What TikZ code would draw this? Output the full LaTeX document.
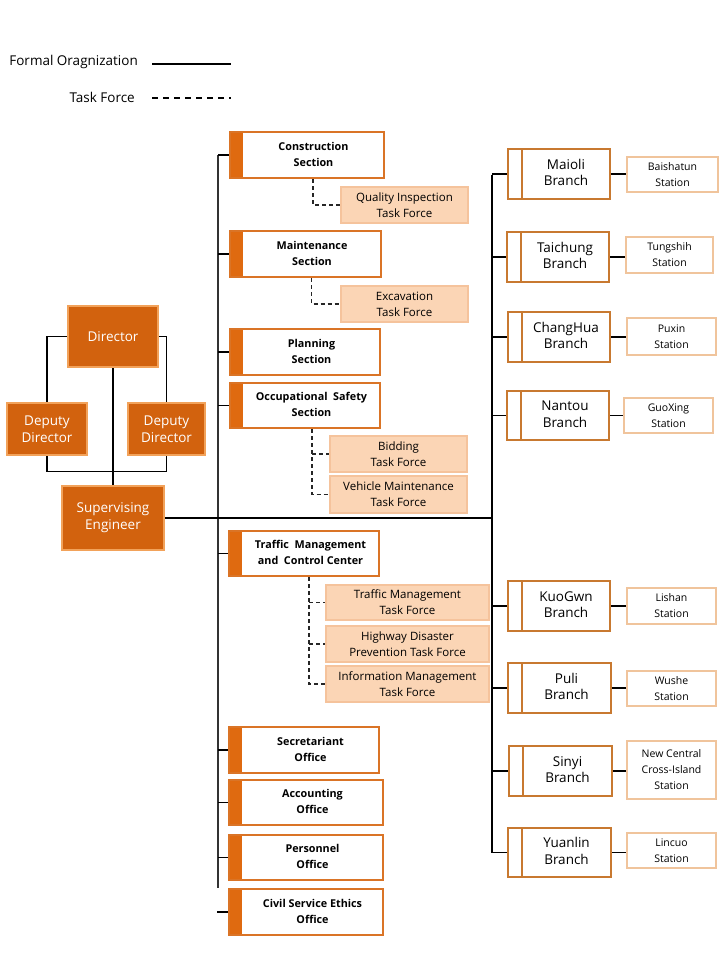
\documentclass[tikz,border=0pt]{standalone}
\usepackage{fontspec}
\setmainfont{Open Sans}
\definecolor{dkor}{HTML}{D2620E}
\definecolor{ltor}{HTML}{F2A25A}
\definecolor{secbd}{HTML}{DA7426}
\definecolor{secband}{HTML}{DF6A10}
\definecolor{brbd}{HTML}{C87930}
\definecolor{tffill}{HTML}{FBD5B5}
\definecolor{tfbd}{HTML}{F5C39C}
\definecolor{stbd}{HTML}{F0C49C}
\newcommand\rtext[2]{\hspace*{#1pt}\begin{tabular}{@{}c@{}}#2\end{tabular}}
\begin{document}
\begin{tikzpicture}[x=1pt,y=-1pt,
  topbox/.style={fill=dkor,draw=ltor,line width=2.5pt,text=white,align=center,
    font=\fontsize{13.5}{17}\selectfont,inner sep=0pt},
  secbox/.style={fill=white,draw=secbd,line width=2pt,inner sep=0pt,
    font=\fontsize{10.8}{16}\bfseries\selectfont,
    path picture={\fill[secband] (path picture bounding box.north west) rectangle ([xshift=13pt]path picture bounding box.south west);}},
  brbox/.style={fill=white,draw=brbd,line width=2pt,inner sep=0pt,
    font=\fontsize{13.5}{16.5}\selectfont,
    path picture={\draw[brbd,line width=2pt] ([xshift=14pt]path picture bounding box.north west) -- ([xshift=14pt]path picture bounding box.south west);}},
  tfbox/.style={fill=tffill,draw=tfbd,line width=1.5pt,inner sep=0pt,align=center,
    font=\fontsize{11.5}{16}\selectfont},
  stbox/.style={fill=white,draw=stbd,line width=2pt,inner sep=0pt,align=center,
    font=\fontsize{10.5}{16}\selectfont},
  conn/.style={line width=1.2pt,black},
  tfline/.style={line width=1.1pt,black!85,dash pattern=on 4pt off 3pt}
]
\fill[white] (0,0) rectangle (720,960);
\useasboundingbox (0,0) rectangle (720,960);

% legend
\node[anchor=east,font=\fontsize{13.5}{16}\selectfont,inner sep=0pt] (leg1) at (138,62) {Formal Oragnization};
\node[anchor=east,font=\fontsize{13.5}{16}\selectfont,inner sep=0pt] (leg2) at (135,97) {Task Force};
\coordinate (l1a) at (152,64); \coordinate (l1b) at (231,64);
\coordinate (l2a) at (152,98); \coordinate (l2b) at (231,98);
\draw[conn,line width=1.6pt] (l1a) -- (l1b);
\draw[line width=1.6pt,dash pattern=on 6pt off 5pt] (l2a) -- (l2b);

% top management
\node[topbox,minimum width=90,minimum height=61] (dir) at (113,336.5) {Director};
\node[topbox,minimum width=80,minimum height=52] (dd1) at (47,429) {Deputy\\Director};
\node[topbox,minimum width=77,minimum height=52] (dd2) at (166.5,429) {Deputy\\Director};
\node[topbox,minimum width=102,minimum height=64] (se) at (113,518) {Supervising\\Engineer};

\draw[conn] (dir.west) -| (dd1.north);
\draw[conn] (dir.east) -| (dd2.north);
\draw[conn] (dir.south) -- (se.north);
\draw[conn] (dd1.south) -- ++(0,15) -| (dd2.south);

% sections
\node[secbox,minimum width=154,minimum height=46] (cons) at (307,155) {\rtext{13}{Construction\\Section}};
\node[secbox,minimum width=151,minimum height=46] (maint) at (305.5,254) {\rtext{13}{Maintenance\\Section}};
\node[secbox,minimum width=150,minimum height=46] (plan) at (305,352) {\rtext{13}{Planning\\Section}};
\node[secbox,minimum width=150,minimum height=45] (occ) at (305,405.5) {\rtext{13}{Occupational\ \ Safety\\Section}};
\node[secbox,minimum width=150,minimum height=45] (tmcc) at (304,553.5) {\rtext{13}{Traffic\ \ Management\\and\ \ Control Center}};
\node[secbox,minimum width=150,minimum height=46] (sec) at (304,750) {\rtext{13}{Secretariant\\Office}};
\node[secbox,minimum width=154,minimum height=45] (acc) at (306,802.5) {\rtext{13}{Accounting\\Office}};
\node[secbox,minimum width=154,minimum height=45] (pers) at (306,857.5) {\rtext{13}{Personnel\\Office}};
\node[secbox,minimum width=154,minimum height=46] (civ) at (306,912) {\rtext{13}{Civil Service Ethics\\Office}};

% task forces
\node[tfbox,minimum width=127,minimum height=36] (qi) at (404.5,205) {Quality Inspection\\Task Force};
\node[tfbox,minimum width=127,minimum height=36] (exc) at (404.5,304) {Excavation\\Task Force};
\node[tfbox,minimum width=137,minimum height=36] (bid) at (398.5,454) {Bidding\\Task Force};
\node[tfbox,minimum width=137,minimum height=37] (veh) at (398.5,494.5) {Vehicle Maintenance\\Task Force};
\node[tfbox,minimum width=163,minimum height=35] (tmtf) at (407.5,602.5) {Traffic Management\\Task Force};
\node[tfbox,minimum width=163,minimum height=36] (hdp) at (407.5,644) {Highway Disaster\\Prevention Task Force};
\node[tfbox,minimum width=163,minimum height=36] (imtf) at (407.5,684) {Information Management\\Task Force};

% main trunk
\coordinate (mtop) at (218,155);
\coordinate (mbot) at (218,888);
\draw[conn,black!80] (mtop) -- (mbot);
\foreach \n in {cons,maint,plan,occ,tmcc,sec,acc,pers}{
  \draw[conn] (\n.west -| mtop) -- (\n.west);
}
\draw[conn] (civ.west) -- ++(-11,0);

% dashed task force links
\draw[tfline] ([xshift=6]cons.south) |- (qi.west);
\draw[tfline] ([xshift=6]maint.south) |- (exc.west);
\draw[tfline] ([xshift=7]occ.south) coordinate (occd) |- (veh.west);
\draw[tfline] (bid.west -| occd) -- (bid.west);
\draw[tfline] ([xshift=5]tmcc.south) coordinate (tmd) |- (imtf.west);
\draw[tfline] (tmtf.west -| tmd) -- (tmtf.west);
\draw[tfline] (hdp.west -| tmd) -- (hdp.west);

% branches
\coordinate (btop) at (492,175);
\coordinate (bbot) at (492,853);
\draw[conn] (btop) -- (bbot);
\draw[conn] (se.east) -- (se.east -| btop);

\node[brbox,minimum width=102,minimum height=50] (mai) at (559,174) {\rtext{14}{Maioli\\Branch}};
\node[brbox,minimum width=102,minimum height=50] (tai) at (558,257) {\rtext{14}{Taichung\\Branch}};
\node[brbox,minimum width=102,minimum height=50] (cha) at (559,337) {\rtext{14}{ChangHua\\Branch}};
\node[brbox,minimum width=102,minimum height=49] (nan) at (558,415.5) {\rtext{14}{Nantou\\Branch}};
\node[brbox,minimum width=102,minimum height=50] (kuo) at (559,606) {\rtext{14}{KuoGwn\\Branch}};
\node[brbox,minimum width=103,minimum height=50] (pul) at (559.5,688) {\rtext{14}{Puli\\Branch}};
\node[brbox,minimum width=103,minimum height=50] (sin) at (560.5,771) {\rtext{14}{Sinyi\\Branch}};
\node[brbox,minimum width=103,minimum height=49] (yua) at (559.5,852.5) {\rtext{14}{Yuanlin\\Branch}};

\node[stbox,minimum width=91,minimum height=35] (bai) at (672.5,174.5) {Baishatun\\Station};
\node[stbox,minimum width=87,minimum height=36] (tun) at (669.5,255) {Tungshih\\Station};
\node[stbox,minimum width=89,minimum height=37] (pux) at (671.5,336.5) {Puxin\\Station};
\node[stbox,minimum width=89,minimum height=35] (guo) at (668.5,415.5) {GuoXing\\Station};
\node[stbox,minimum width=89,minimum height=36] (lis) at (671.5,606) {Lishan\\Station};
\node[stbox,minimum width=89,minimum height=35] (wus) at (671.5,688.5) {Wushe\\Station};
\node[stbox,minimum width=89,minimum height=58] (nc) at (671.5,770) {New Central\\Cross-Island\\Station};
\node[stbox,minimum width=89,minimum height=35] (lin) at (671.5,850.5) {Lincuo\\Station};

\foreach \b/\s in {mai/bai,tai/tun,cha/pux,nan/guo,kuo/lis,pul/wus,sin/nc,yua/lin}{
  \draw[conn] (\b.west -| btop) -- (\b.west);
  \draw[conn] (\b.east) -- (\b.east -| \s.west);
}
\end{tikzpicture}
\end{document}
